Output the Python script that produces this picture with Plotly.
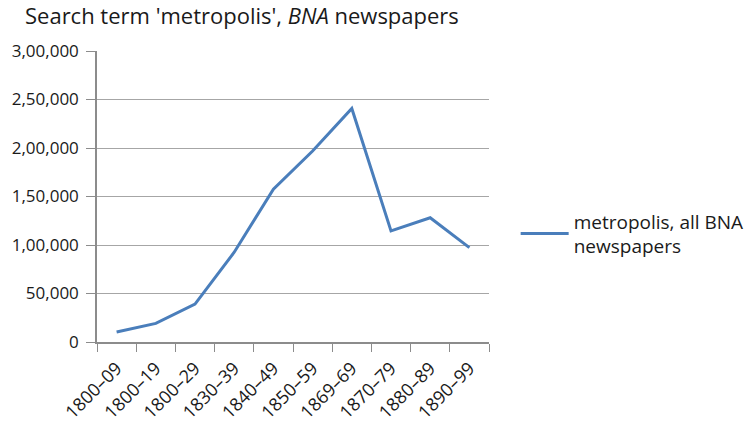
import plotly.graph_objects as go

categories = ["1800–09", "1800–19", "1800–29", "1830–39", "1840–49",
              "1850–59", "1869–69", "1870–79", "1880–89", "1890–99"]
values = [10400, 19200, 39000, 92500, 157600, 196900, 240700, 114600, 128100, 97300]
y_tickvals = [0, 50000, 100000, 150000, 200000, 250000, 300000]
y_ticktext = ["0", "50,000", "1,00,000", "1,50,000", "2,00,000", "2,50,000", "3,00,000"]
series_name = "metropolis, all BNA<br>newspapers"

FONT = "Open Sans, Noto Sans, sans-serif"

fig = go.Figure()
fig.add_trace(go.Scatter(
    x=categories, y=values, mode="lines", name=series_name,
    line=dict(color="#4a7ebb", width=3),
))

fig.update_layout(
    width=746, height=423,
    margin=dict(l=97, r=257, t=51, b=81, autoexpand=False),
    paper_bgcolor="white", plot_bgcolor="white",
    font=dict(family=FONT, size=17, color="#1a1a1a"),
    title=dict(text="Search term 'metropolis', <i>BNA</i> newspapers",
               x=0.0335, xanchor="left", y=0.962, yanchor="middle",
               font=dict(size=22, family=FONT, color="#1a1a1a")),
    showlegend=True,
    legend=dict(x=1.068, xanchor="left", y=0.372, yanchor="middle",
                font=dict(size=19, family=FONT), bgcolor="rgba(0,0,0,0)",
                itemwidth=48),
)
fig.update_xaxes(
    type="category", tickson="boundaries", ticks="outside", ticklen=8,
    tickcolor="#8c8c8c", showline=True, linecolor="#8c8c8c", linewidth=1.5,
    showgrid=False, tickangle=-45, tickfont=dict(size=18, family=FONT),
    ticklabelstandoff=7, automargin=False,
    range=[-0.5, len(categories) - 0.5],
)
fig.update_yaxes(
    range=[0, 300000], tickvals=y_tickvals, ticktext=y_ticktext,
    ticks="outside", ticklen=9, tickcolor="#8c8c8c",
    showline=True, linecolor="#8c8c8c", linewidth=1.5,
    showgrid=True, gridcolor="#a6a6a6", gridwidth=1.2,
    zeroline=False, tickfont=dict(size=17, family=FONT),
    ticklabelstandoff=4, automargin=False,
)

fig.write_html("out.html")
